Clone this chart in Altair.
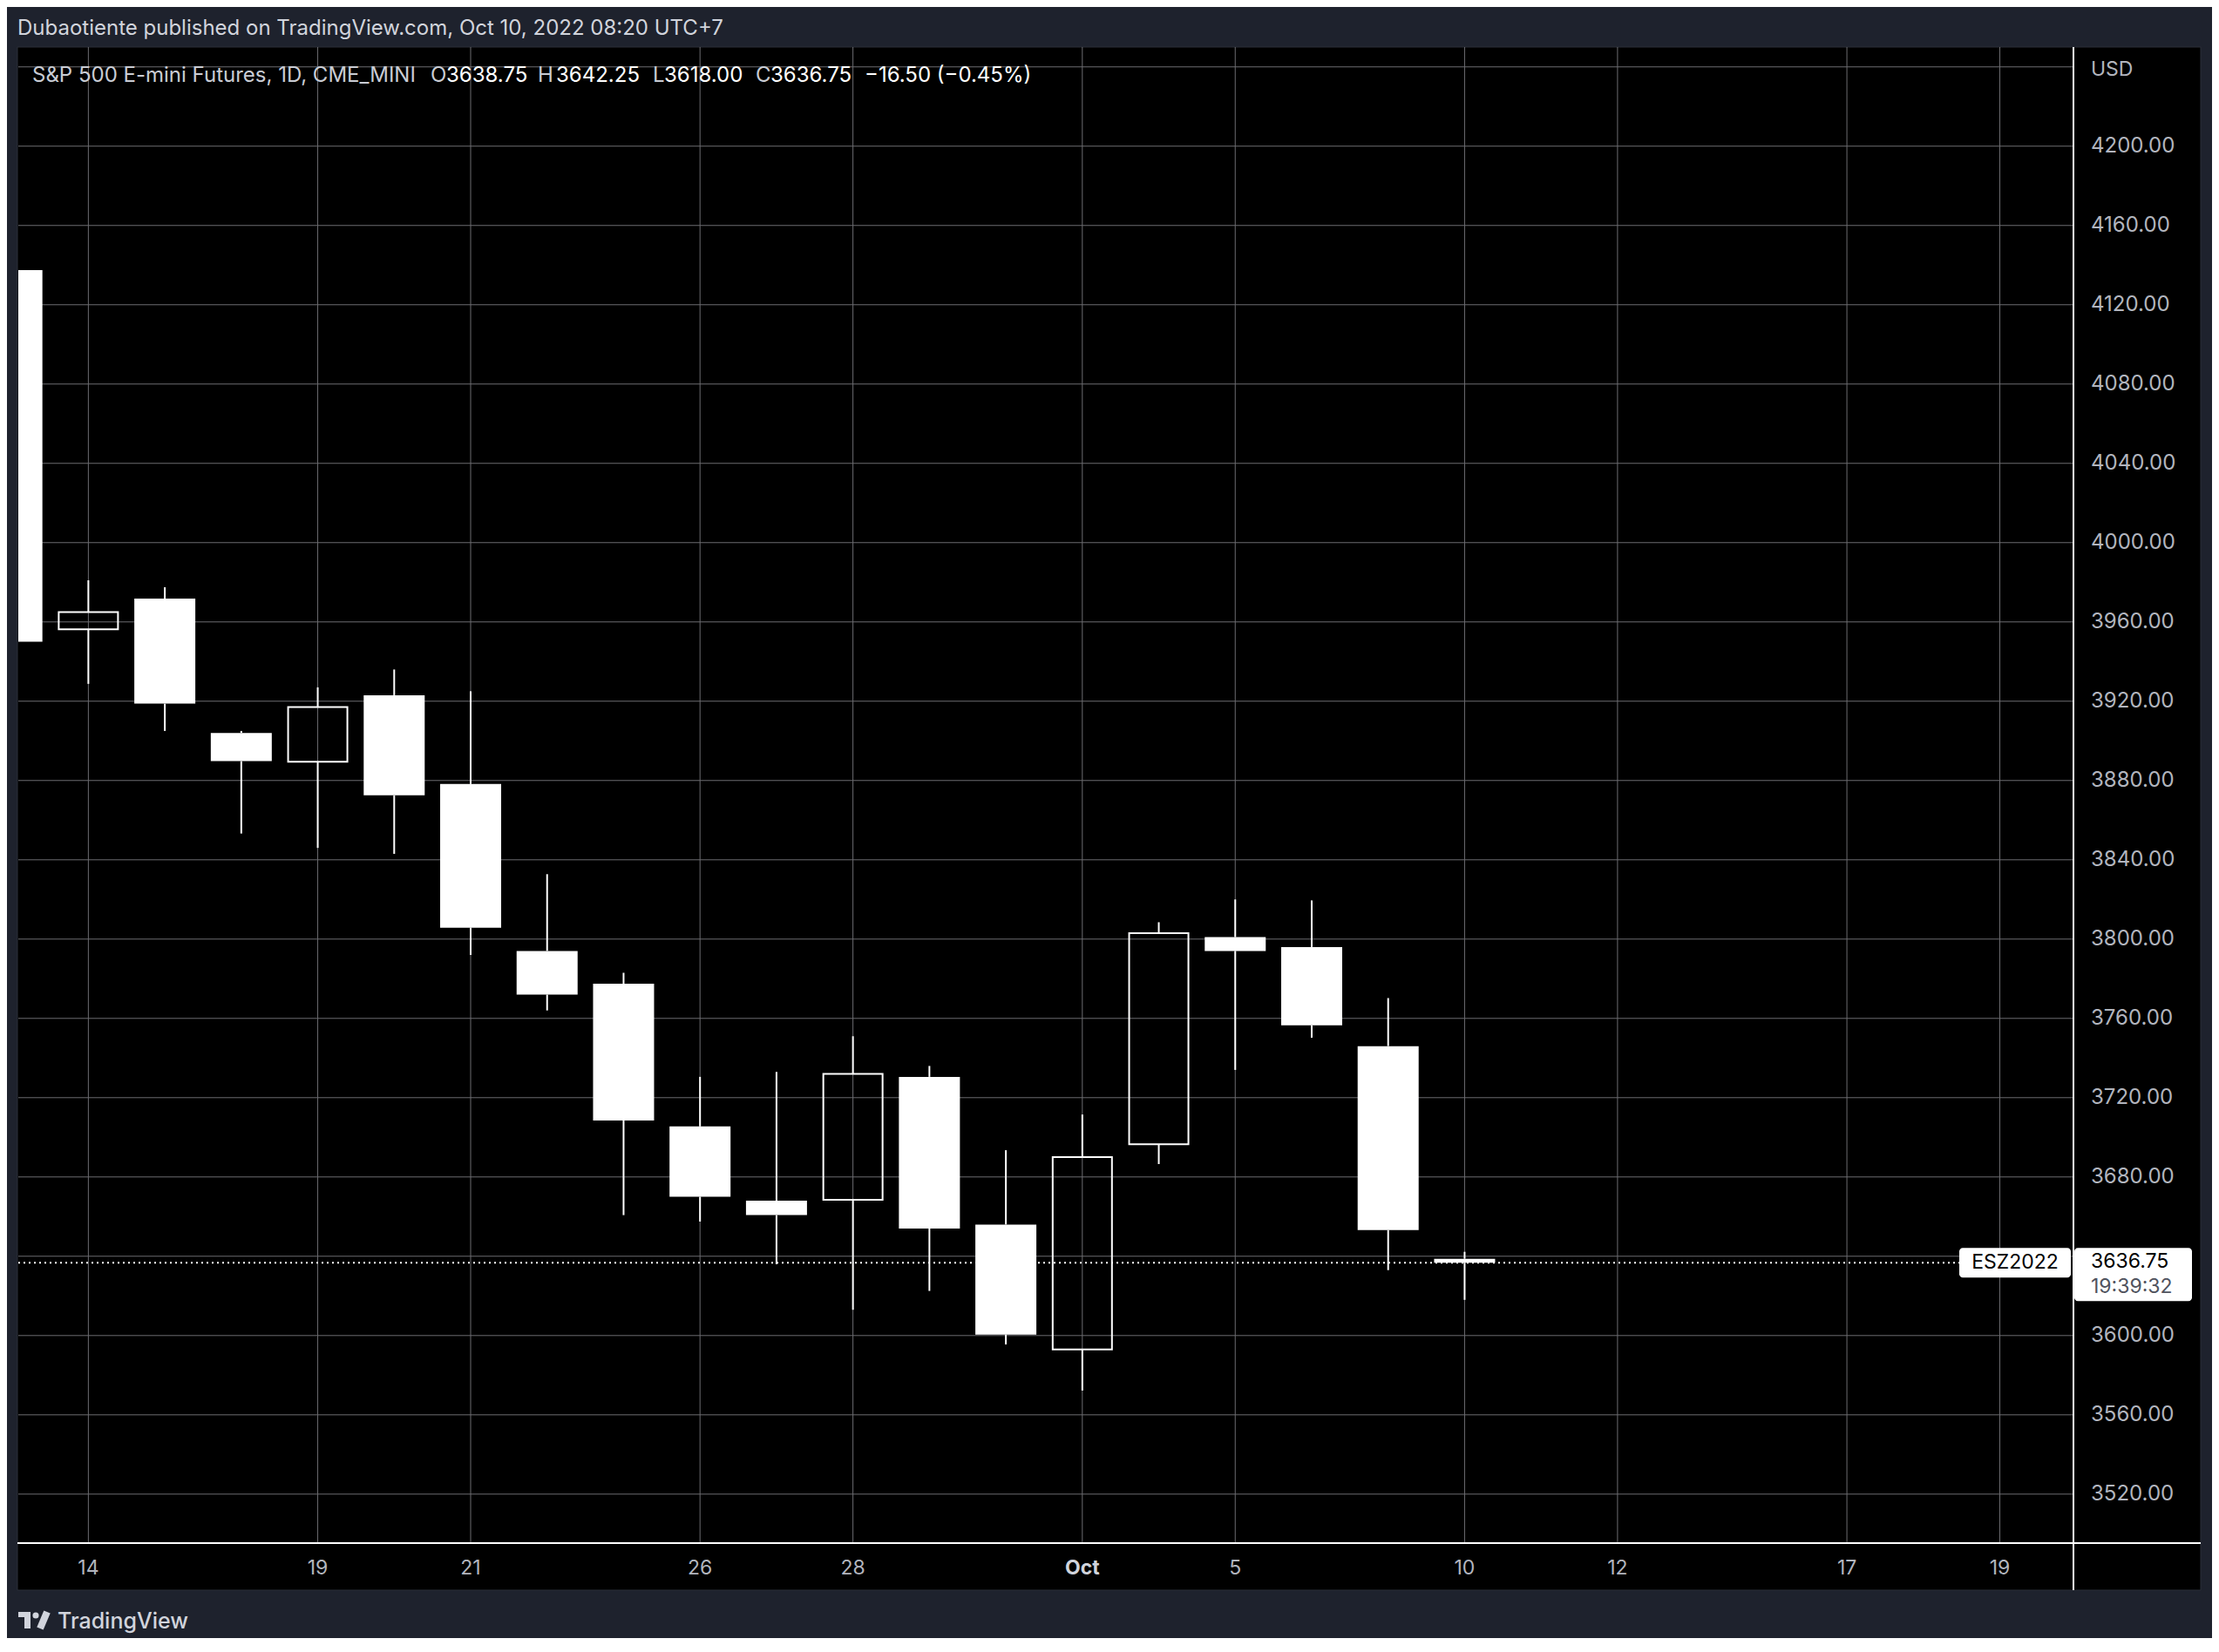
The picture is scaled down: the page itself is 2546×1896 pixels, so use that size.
import altair as alt
import pandas as pd

FONT = "Inter"

# ---------------- data ----------------
days = ["Sep 13", "Sep 14", "Sep 15", "Sep 16", "Sep 19", "Sep 20", "Sep 21", "Sep 22",
        "Sep 23", "Sep 26", "Sep 27", "Sep 28", "Sep 29", "Sep 30", "Oct 3", "Oct 4",
        "Oct 5", "Oct 6", "Oct 7", "Oct 10"]
future_days = ["Oct 11", "Oct 12", "Oct 13", "Oct 14", "Oct 17", "Oct 18", "Oct 19"]

opens = [4137.50, 3956.25, 3971.75, 3904.00, 3889.50, 3923.00, 3878.25, 3794.00, 3777.50, 3705.50,
         3668.00, 3668.50, 3730.50, 3656.00, 3593.00, 3696.50, 3801.00, 3796.00, 3746.00, 3638.75]
highs = [4151.00, 3981.00, 3977.50, 3905.00, 3927.00, 3936.00, 3925.00, 3832.75, 3783.00, 3730.50,
         3733.00, 3751.00, 3736.00, 3693.50, 3711.50, 3808.50, 3820.00, 3819.50, 3770.25, 3642.25]
lows = [3943.00, 3928.75, 3905.00, 3853.25, 3846.00, 3843.00, 3792.00, 3764.00, 3660.75, 3657.50,
        3636.00, 3613.00, 3622.50, 3595.50, 3572.25, 3686.50, 3734.00, 3750.25, 3633.00, 3618.00]
closes = [3950.00, 3965.00, 3918.75, 3889.75, 3917.00, 3872.50, 3805.75, 3772.00, 3708.50, 3670.00,
          3660.75, 3732.00, 3654.00, 3600.50, 3690.00, 3803.00, 3794.00, 3756.50, 3653.25, 3636.75]

tick_days = ["Sep 14", "Sep 19", "Sep 21", "Sep 26", "Sep 28", "Oct 3", "Oct 5", "Oct 10",
             "Oct 12", "Oct 17", "Oct 19"]
tick_labels = ["14", "19", "21", "26", "28", "Oct", "5", "10", "12", "17", "19"]

# horizontal grid levels, and the levels whose label is shown on the price scale
grid_prices = [3520.0, 3560.0, 3600.0, 3640.0, 3680.0, 3720.0, 3760.0, 3800.0, 3840.0,
               3880.0, 3920.0, 3960.0, 4000.0, 4040.0, 4080.0, 4120.0, 4160.0, 4200.0, 4240.0]
label_prices = [3520.0, 3560.0, 3600.0, 3680.0, 3720.0, 3760.0, 3800.0, 3840.0,
                3880.0, 3920.0, 3960.0, 4000.0, 4040.0, 4080.0, 4120.0, 4160.0, 4200.0]

symbol = "ESZ2022"
countdown = "19:39:32"
header = "Dubaotiente published on TradingView.com, Oct 10, 2022 08:20 UTC+7"
title_name = "S&P 500 E-mini Futures, 1D, CME_MINI"

# ---------------- tables ----------------
all_days = days + future_days
pos = {d: i for i, d in enumerate(all_days)}

cdf = pd.DataFrame({"day": days, "open": opens, "high": highs, "low": lows, "close": closes})
cdf["idx"] = [pos[d] for d in days]
cdf["top"] = cdf[["open", "close"]].max(axis=1)
cdf["bot"] = cdf[["open", "close"]].min(axis=1)
cdf["up"] = cdf["close"] > cdf["open"]

tdf = pd.DataFrame({"idx": [pos[d] for d in tick_days], "lab": tick_labels})
tdf["bold"] = [not l.isdigit() for l in tick_labels]

ydf = pd.DataFrame({"p": label_prices})
gdf = pd.DataFrame({"p": grid_prices})
last = closes[-1]
ldf = pd.DataFrame({"last": [last], "sym": [symbol], "txt": [f"{last:.2f}"], "cd": [countdown]})
one = pd.DataFrame({"k": [0]})

chg = closes[-1] - closes[-2]
pct = chg / closes[-2] * 100
chg_txt = f"{chg:+.2f} ({pct:+.2f}%)".replace("-", "\u2212").replace("+", "")

# ---------------- geometry ----------------
W, H = 2358, 1717
xs = alt.Scale(domain=[0.1407, 26.906], nice=False, zero=False)
ys = alt.Scale(domain=[3495.3, 4250.0], nice=False, zero=False)


def X(f):
    return alt.X(f, type="quantitative", scale=xs, axis=None)


def Y(f):
    return alt.Y(f, type="quantitative", scale=ys, axis=None)


GRID = "#6c6c70"
LBL = "#b2b5be"

panel = alt.Chart(one).mark_rect(color="#000000", stroke="#2a2e39", strokeWidth=1).encode(
    x=alt.value(-1), x2=alt.value(2504), y=alt.value(0), y2=alt.value(1771))

hgrid = alt.Chart(gdf).mark_rule(color=GRID, strokeWidth=1).encode(
    y=Y("p"), x=alt.value(0), x2=alt.value(W))
vgrid = alt.Chart(tdf).mark_rule(color=GRID, strokeWidth=1).encode(
    x=X("idx"), y=alt.value(0), y2=alt.value(H))

price_line = alt.Chart(ldf).mark_rule(color="#ffffff", strokeWidth=2, strokeDash=[2, 4]).encode(
    y=Y("last"), x=alt.value(0), x2=alt.value(W))

wick_hi = alt.Chart(cdf).mark_rule(color="#ffffff", strokeWidth=2, clip=True).encode(
    x=X("idx"), y=Y("high"), y2=alt.Y2("top"))
wick_lo = alt.Chart(cdf).mark_rule(color="#ffffff", strokeWidth=2, clip=True).encode(
    x=X("idx"), y=Y("bot"), y2=alt.Y2("low"))

body_dn = alt.Chart(cdf[~cdf["up"]]).mark_bar(size=70, color="#ffffff", clip=True).encode(
    x=X("idx"), y=Y("open"), y2=alt.Y2("close"))
body_up = alt.Chart(cdf[cdf["up"]]).mark_bar(
    size=68, fill="#000000", fillOpacity=0, stroke="#ffffff", strokeWidth=2, clip=True).encode(
    x=X("idx"), y=Y("open"), y2=alt.Y2("close"))

sep_v = alt.Chart(one).mark_rule(color="#ffffff", strokeWidth=2).encode(
    x=alt.value(W), y=alt.value(0), y2=alt.value(1771))
sep_h = alt.Chart(one).mark_rule(color="#ffffff", strokeWidth=2).encode(
    y=alt.value(H), x=alt.value(-1), x2=alt.value(2504))

ylabels = alt.Chart(ydf).mark_text(align="left", baseline="middle", font=FONT, fontSize=24,
                                   color=LBL).encode(
    y=Y("p"), x=alt.value(2378), text=alt.Text("p:Q", format=".2f"))

xl_norm = alt.Chart(tdf[~tdf["bold"]]).mark_text(align="center", baseline="middle", font=FONT,
                                                 fontSize=23, color=LBL).encode(
    x=X("idx"), y=alt.value(1746), text="lab:N")
xl_bold = alt.Chart(tdf[tdf["bold"]]).mark_text(align="center", baseline="middle", font=FONT,
                                                fontSize=23, fontWeight="bold", color="#d1d4dc").encode(
    x=X("idx"), y=alt.value(1746), text="lab:N")

sym_box = alt.Chart(ldf).mark_rect(color="#ffffff", cornerRadius=4, yOffset=-17, y2Offset=17).encode(
    y=Y("last"), y2=alt.Y2("last"), x=alt.value(2227), x2=alt.value(2355))
sym_txt = alt.Chart(ldf).mark_text(align="center", baseline="middle", font=FONT, fontSize=23,
                                   color="#000000").encode(
    y=Y("last"), x=alt.value(2291), text="sym:N")
px_box = alt.Chart(ldf).mark_rect(color="#ffffff", cornerRadius=4, yOffset=-17, y2Offset=44).encode(
    y=Y("last"), y2=alt.Y2("last"), x=alt.value(2359), x2=alt.value(2494))
px_txt = alt.Chart(ldf).mark_text(align="left", baseline="middle", font=FONT, fontSize=23,
                                  color="#000000", dy=-1).encode(
    y=Y("last"), x=alt.value(2378), text="txt:N")
cd_txt = alt.Chart(ldf).mark_text(align="left", baseline="middle", font=FONT, fontSize=23,
                                  color="#50535e", dy=28).encode(
    y=Y("last"), x=alt.value(2378), text="cd:N")

usd = alt.Chart(one).mark_text(align="left", baseline="middle", font=FONT, fontSize=23,
                               color=LBL, text="USD").encode(x=alt.value(2378), y=alt.value(26))

head = alt.Chart(one).mark_text(align="left", baseline="alphabetic", font=FONT, fontSize=24,
                                color="#d1d4dc", text=header).encode(x=alt.value(-1), y=alt.value(-14))

title_parts = [
    (16, title_name, "#c9ccd4"),
    (473, "O", "#c9ccd4"), (491, f"{opens[-1]:.2f}", "#ffffff"),
    (596, "H", "#c9ccd4"), (617, f"{highs[-1]:.2f}", "#ffffff"),
    (728, "L", "#c9ccd4"), (741, f"{lows[-1]:.2f}", "#ffffff"),
    (846, "C", "#c9ccd4"), (863, f"{closes[-1]:.2f}", "#ffffff"),
    (971, chg_txt, "#ffffff"),
]
title_layers = [
    alt.Chart(one).mark_text(align="left", baseline="alphabetic", font=FONT, fontSize=24,
                             color=c, text=t).encode(x=alt.value(xp), y=alt.value(40))
    for xp, t, c in title_parts
]

logo_c = "#d1d4dc"
logo = [
    alt.Chart(one).mark_rect(color=logo_c).encode(x=alt.value(0), x2=alt.value(14),
                                                  y=alt.value(1796), y2=alt.value(1802)),
    alt.Chart(one).mark_rect(color=logo_c).encode(x=alt.value(7), x2=alt.value(14),
                                                  y=alt.value(1796), y2=alt.value(1815)),
    alt.Chart(one).mark_point(filled=True, color=logo_c, size=50, opacity=1).encode(
        x=alt.value(20), y=alt.value(1800)),
    alt.Chart(one).mark_rule(color=logo_c, strokeWidth=8).encode(
        x=alt.value(33), y=alt.value(1796), x2=alt.value(25), y2=alt.value(1815)),
    alt.Chart(one).mark_text(align="left", baseline="alphabetic", font=FONT, fontSize=25,
                             fontWeight=500, color=logo_c, text="TradingView").encode(
        x=alt.value(45), y=alt.value(1815)),
]

chart = alt.layer(
    panel, hgrid, vgrid, price_line, wick_hi, wick_lo, body_dn, body_up,
    sep_v, sep_h, ylabels, xl_norm, xl_bold,
    sym_box, sym_txt, px_box, px_txt, cd_txt, usd, head, *title_layers, *logo
).properties(
    width=W, height=H,
    padding={"left": 13, "top": 46, "right": 159, "bottom": 109},
    autosize=alt.AutoSizeParams(type="none"),
    background="#1e222d",
).configure_view(strokeWidth=0)

chart.save("out.html", embed_options={"renderer": "svg", "actions": False})
